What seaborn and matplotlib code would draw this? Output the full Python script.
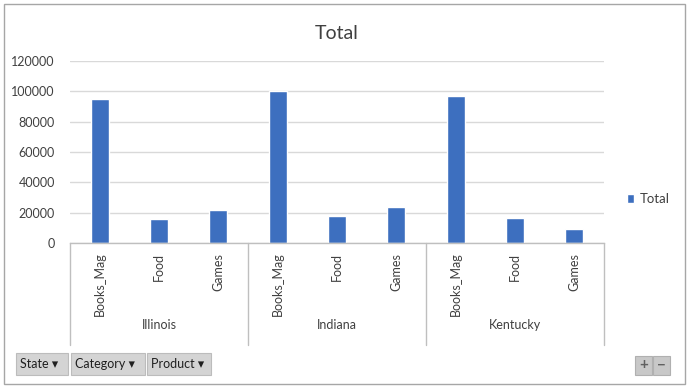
import pandas as pd
import numpy as np
import matplotlib.pyplot as plt
import seaborn as sns
from matplotlib.patches import Rectangle

states = ['Illinois', 'Indiana', 'Kentucky']
products = ['Books_Mag', 'Food', 'Games']
illinois = [95000, 16000, 22000]
indiana = [100000, 18000, 23500]
kentucky = [97000, 16500, 9500]
yticks = [0, 20000, 40000, 60000, 80000, 100000, 120000]

rows = []
for st, vals in zip(states, [illinois, indiana, kentucky]):
    for p, v in zip(products, vals):
        rows.append({'key': st + '|' + p, 'State': st, 'Product': p, 'Total': v})
data = pd.DataFrame(rows)

sns.set_style('white')
plt.rcParams['font.family'] = ['Lato', 'DejaVu Sans']

W, H = 690, 386
fig = plt.figure(figsize=(W / 100, H / 100), dpi=100)
fig.patch.set_facecolor('white')

# plot area in pixels: left 70, right 604, top 61, bottom 243
ax = fig.add_axes([70 / W, 1 - 243 / H, 534 / W, 182 / H])
sns.barplot(data=data, x='key', y='Total', order=list(data['key']), color='#3d6fbf',
            saturation=1, width=0.3, label='Total', ax=ax)

ax.set_ylim(0, 120000)
ax.set_xlim(-0.5, len(data) - 0.5)
ax.set_yticks(yticks)
ax.set_yticklabels([str(t) for t in yticks], fontsize=9, color='#404040')
ax.set_xticks(range(len(data)))
ax.set_xticklabels(data['Product'], rotation=90, fontsize=9, color='#404040')
ax.tick_params(axis='both', length=0, pad=7)
ax.tick_params(axis='y', pad=11)
ax.set_xlabel('')
ax.set_ylabel('')
ax.yaxis.grid(True, color='#d9d9d9', linewidth=1)
ax.set_axisbelow(True)
for s in ['left', 'right', 'top']:
    ax.spines[s].set_visible(False)
ax.spines['bottom'].set_color('#bfbfbf')
ax.spines['bottom'].set_linewidth(1)

# state grouping lines and labels
trans = ax.get_xaxis_transform()
for b in [-0.5, 2.5, 5.5, 8.5]:
    ax.plot([b, b], [0, -0.56], transform=trans, color='#bfbfbf', linewidth=1, clip_on=False)
for i, st in enumerate(states):
    ax.text(i * 3 + 1, -0.45, st, transform=trans, ha='center', va='center',
            fontsize=9, color='#404040')

ax.set_title('Total', fontsize=14, color='#404040', pad=16)

leg = ax.legend(loc='center left', bbox_to_anchor=(1.02, 0.24), frameon=False,
                fontsize=9.5, handlelength=0.6, handleheight=0.6, handletextpad=0.4)
for t in leg.get_texts():
    t.set_color('#404040')

# chart border
fig.patches.append(Rectangle((4 / W, 1 - 384 / H), 681 / W, 380 / H, transform=fig.transFigure,
                             fill=False, edgecolor='#a6a6a6', linewidth=1))

# field buttons
buttons = [('State \u25BE', 16, 52), ('Category \u25BE', 71, 74), ('Product \u25BE', 147, 64)]
for label, x0, w in buttons:
    fig.patches.append(Rectangle((x0 / W, 1 - 375 / H), w / W, 22 / H, transform=fig.transFigure,
                                 facecolor='#d4d4d4', edgecolor='#bcbcbc', linewidth=0.8))
    fig.text((x0 + 4) / W, 1 - 364 / H, label, ha='left', va='center', fontsize=9, color='#202020')

for sym, x0 in [('+', 635), ('\u2212', 653)]:
    fig.patches.append(Rectangle((x0 / W, 1 - 375 / H), 17 / W, 19 / H, transform=fig.transFigure,
                                 facecolor='#c8c8c8', edgecolor='#b0b0b0', linewidth=0.8))
    fig.text((x0 + 8.5) / W, 1 - 365.5 / H, sym, ha='center', va='center', fontsize=11,
             color='#606060', fontweight='bold')

plt.savefig('out.png', dpi=100)
